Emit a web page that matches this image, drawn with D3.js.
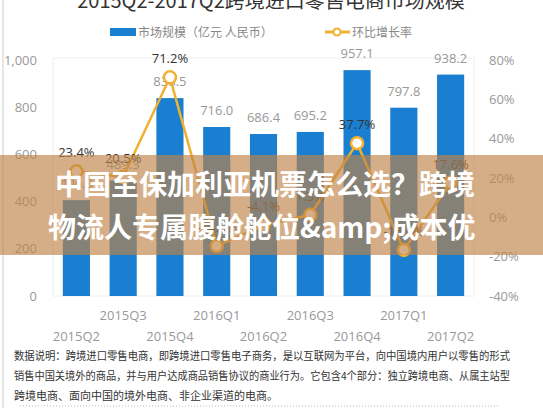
<!DOCTYPE html>
<html><head><meta charset="utf-8">
<script src="https://cdn.jsdelivr.net/npm/d3@7"></script>
<style>body{margin:0;background:#fff}svg{display:block;font-family:"Noto Sans CJK SC","Noto Sans",sans-serif}</style>
</head><body>
<svg id="c" width="543" height="408"></svg>
<script>
const categories=["2015Q2","2015Q3","2015Q4","2016Q1","2016Q2","2016Q3","2016Q4","2017Q1","2017Q2"];
const marketSize=[406.0,489.3,838.5,716.0,686.4,695.2,957.1,797.8,938.2];
const growthRate=[23.4,20.5,71.2,-14.6,-4.1,1.3,37.7,-16.6,17.6];
const leftTicks=[0,200,400,600,800,1000];
const rightTicks=[-40,-20,0,20,40,60,80];
const titleText="2015Q2-2017Q2跨境进口零售电商市场规模";
const legendLabels=["市场规模（亿元 人民币）","环比增长率"];
const bannerLines=["中国至保加利亚机票怎么选？跨境","物流人专属腹舱舱位&amp;成本优"];
const noteLines=["数据说明：跨境进口零售电商，即跨境进口零售电子商务，是以互联网为平台，向中国境内用户以零售的形式","销售中国关境外的商品，并与用户达成商品销售协议的商业行为。它包含4个部分：独立跨境电商、从属主站型","跨境电商、面向中国的境外电商、非企业渠道的电商。"];

const svg=d3.select("#c");
const blue="#1a7fd0",orange="#f0b030";
const x=d3.scaleBand().domain(categories).range([53,474]).paddingInner(0.42).paddingOuter(0.21);
const y=d3.scaleLinear().domain([0,1000]).range([296,60]);
const y2=d3.scaleLinear().domain([-40,80]).range([296,60]);

svg.append("line").attr("x1",3).attr("x2",3).attr("y1",0).attr("y2",408).attr("stroke","#ccc");
svg.append("text").attr("x",271).attr("y",8).attr("text-anchor","middle").attr("font-size",20).attr("fill","#333").text(titleText);
svg.append("rect").attr("x",110).attr("y",28).attr("width",26).attr("height",8).attr("fill",blue);
svg.append("text").attr("x",138).attr("y",37).attr("font-size",12).attr("fill","#888").text(legendLabels[0]);
svg.append("line").attr("x1",325).attr("x2",350).attr("y1",32).attr("y2",32).attr("stroke",orange).attr("stroke-width",3);
svg.append("circle").attr("cx",337).attr("cy",32).attr("r",3.5).attr("fill","#fff").attr("stroke",orange).attr("stroke-width",2);
svg.append("text").attr("x",352).attr("y",37).attr("font-size",12).attr("fill","#888").text(legendLabels[1]);

svg.append("rect").attr("x",53).attr("y",58).attr("width",421).attr("height",238).attr("fill","#fff").attr("stroke","#eee");

const la=svg.append("g").attr("transform","translate(40,0)").call(d3.axisLeft(y).tickValues(leftTicks).tickFormat(d3.format(",")).tickSize(0));
la.select(".domain").remove();
la.selectAll("text").attr("font-size",13).attr("fill","#999").attr("font-family","Open Sans,sans-serif");
const ra=svg.append("g").attr("transform","translate(486,0)").call(d3.axisRight(y2).tickValues(rightTicks).tickFormat(d=>d+"%").tickSize(0));
ra.select(".domain").remove();
ra.selectAll("text").attr("font-size",13).attr("fill","#999").attr("font-family","Open Sans,sans-serif");

svg.selectAll(".bar").data(categories).enter().append("rect")
 .attr("x",d=>x(d)).attr("width",x.bandwidth()).attr("y",(d,i)=>y(marketSize[i])).attr("height",(d,i)=>y(0)-y(marketSize[i])).attr("fill",blue);
svg.selectAll(".bl").data(categories).enter().append("text")
 .attr("x",d=>x(d)+x.bandwidth()/2).attr("y",(d,i)=>y(marketSize[i])-12).attr("text-anchor","middle").attr("font-size",13).attr("fill","#999").attr("font-family","Open Sans,sans-serif")
 .text((d,i)=>marketSize[i].toFixed(1));

const pts=categories.map((c,i)=>[x(c)+x.bandwidth()/2,y2(growthRate[i])]);
svg.append("path").attr("d",d3.line()(pts)).attr("fill","none").attr("stroke",orange).attr("stroke-width",2.5);
svg.selectAll(".pt").data(pts).enter().append("circle").attr("cx",d=>d[0]).attr("cy",d=>d[1]).attr("r",6).attr("fill","#fff").attr("stroke",orange).attr("stroke-width",2.5);
svg.selectAll(".gl").data(pts).enter().append("text").attr("x",d=>d[0]).attr("y",d=>d[1]-14).attr("text-anchor","middle").attr("font-size",13).attr("fill","#333").attr("font-family","Open Sans,sans-serif")
 .text((d,i)=>growthRate[i].toFixed(1)+"%");

categories.forEach((c,i)=>{
 svg.append("text").attr("x",x(c)+x.bandwidth()/2).attr("y",i%2?320:341).attr("text-anchor","middle").attr("font-size",13).attr("fill","#999").attr("font-family","Open Sans,sans-serif").text(c);
});

noteLines.forEach((t,i)=>{
 const tx=svg.append("text").attr("x",14).attr("y",360+i*20).attr("font-size",11).attr("fill","#333").text(t);
 if(i<2) tx.attr("textLength",496).attr("lengthAdjust","spacingAndGlyphs");
});
svg.append("line").attr("x1",20).attr("x2",500).attr("y1",406).attr("y2",406).attr("stroke","#bbb").attr("stroke-dasharray","1,2");

svg.append("rect").attr("x",0).attr("y",155).attr("width",543).attr("height",100).attr("fill","rgb(190,130,70)").attr("opacity",0.65);
bannerLines.forEach((t,i)=>svg.append("text").attr("x",i?48:55).attr("y",195+i*43).attr("font-size",28).attr("font-weight","bold").attr("fill","#fff").text(t));
</script>
</body></html>
